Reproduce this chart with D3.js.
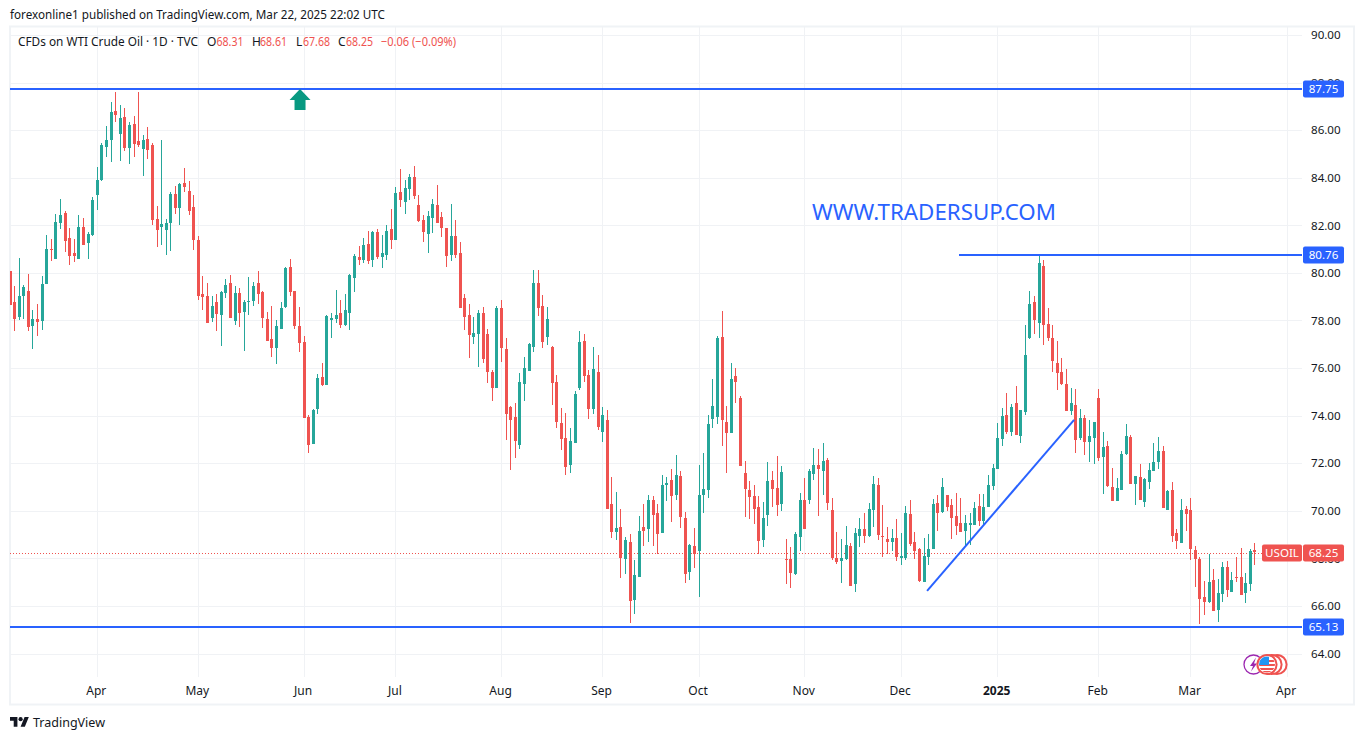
<!DOCTYPE html>
<html><head><meta charset="utf-8">
<script src="https://cdn.jsdelivr.net/npm/d3@7"></script>
<style>html,body{margin:0;padding:0;background:#fff}svg{display:block}text{font-family:"Noto Sans",sans-serif}</style>
</head><body><svg id="c" width="1364" height="740"></svg>
<script>
const opens=[80.06,78.76,78.13,79.01,79.22,77.75,78.04,77.96,79.51,80.98,
80.57,82.08,82.50,81.45,80.81,80.57,81.91,81.23,81.57,83.25,
83.88,85.27,85.56,86.78,85.82,86.53,85.23,86.24,85.52,85.19,
85.61,85.35,82.25,81.91,81.78,82.08,83.30,82.71,83.76,83.42,
82.75,81.36,79.09,79.01,78.09,78.76,78.21,79.14,79.55,77.96,
79.14,78.34,78.76,78.80,79.55,79.18,78.04,77.20,76.82,77.62,
78.54,80.23,79.22,77.75,77.07,73.92,72.79,74.26,75.60,75.27,
78.00,78.04,78.29,77.79,78.29,79.76,80.65,80.52,81.19,80.52,
81.70,80.65,80.73,81.82,81.36,83.38,82.96,83.50,84.01,82.83,
82.20,81.61,82.29,82.83,82.33,81.87,80.73,81.53,80.81,78.92,
78.21,77.28,77.41,78.29,77.41,75.81,75.14,78.50,76.78,74.34,
73.92,72.74,75.31,75.86,76.86,79.55,78.59,77.28,76.86,75.39,
73.67,73.04,71.90,72.83,75.14,77.12,75.69,74.26,75.81,73.29,
73.79,70.26,69.09,69.30,67.95,68.67,66.23,67.20,69.30,69.21,
70.43,69.89,69.05,71.06,71.27,70.64,71.44,69.68,67.41,68.50,
68.29,70.64,70.85,73.84,73.92,77.28,73.71,73.25,75.65,74.72,
71.57,70.85,70.60,70.14,68.75,69.80,71.27,70.94,70.26,67.95,
67.95,67.32,68.88,70.43,70.43,71.53,71.90,71.65,72.11,70.01,
67.99,67.87,67.95,68.50,66.90,68.92,69.21,68.92,70.01,71.06,
68.92,68.79,68.67,68.84,67.99,67.99,69.84,68.67,68.37,66.99,
68.03,68.37,70.30,69.93,70.64,70.22,69.76,69.46,69.13,69.38,
69.38,70.18,69.55,70.14,71.02,71.74,72.99,74.01,73.29,74.51,
73.12,74.13,77.24,78.76,77.87,80.27,77.83,77.24,76.19,75.81,
75.31,74.17,74.42,73.04,73.88,72.87,73.04,74.72,72.24,72.70,
70.98,70.39,70.85,72.37,73.08,71.10,71.40,70.35,71.19,71.65,
72.03,72.49,70.01,70.85,69.04,68.62,70.05,70.01,68.33,67.95,
66.36,66.15,67.07,65.81,66.48,67.62,66.57,67.20,67.20,66.52,
66.90,68.31];
const highs=[80.06,79.43,80.61,79.47,79.93,78.42,78.67,79.85,81.57,81.41,
82.46,83.08,82.58,81.87,81.41,82.41,82.29,81.70,83.17,84.43,
85.44,86.15,87.16,87.58,87.04,86.91,86.32,86.57,87.58,85.77,
86.11,85.44,82.79,85.56,82.25,83.38,83.63,83.76,84.39,83.84,
83.25,81.53,79.85,79.55,79.01,79.09,79.22,79.72,79.89,79.43,
79.34,78.84,79.81,79.60,80.06,79.22,78.34,78.59,78.00,78.76,
80.23,80.56,79.22,78.54,77.33,74.00,74.26,75.73,76.19,78.21,
78.29,79.26,78.84,79.09,79.93,80.77,81.11,81.45,81.74,81.74,
81.82,81.57,81.99,82.66,83.59,84.35,83.88,84.14,84.47,83.25,
82.41,82.58,83.09,83.67,82.54,81.87,82.87,82.20,81.28,79.09,
78.67,78.13,78.42,78.55,77.62,75.90,78.59,78.84,77.24,74.38,
74.51,75.77,76.44,77.03,80.10,80.10,79.05,78.55,76.90,75.69,
74.30,74.09,73.46,75.01,77.54,77.41,75.90,76.86,76.53,74.34,
74.22,71.40,70.77,70.05,68.88,69.00,67.91,69.76,70.26,70.64,
70.60,70.26,71.48,71.40,71.74,72.32,71.65,69.93,68.58,69.26,
71.90,72.41,74.01,75.52,77.33,78.38,74.38,76.19,75.98,74.80,
72.07,71.23,71.06,70.60,70.35,72.03,71.65,72.28,71.86,68.79,
68.46,69.09,70.73,71.36,71.74,72.62,72.58,72.83,72.20,70.52,
69.09,68.79,69.34,68.63,69.26,69.68,69.89,70.31,71.44,71.36,
70.22,69.30,69.21,69.63,69.05,70.18,70.43,69.09,68.41,68.84,
69.00,70.47,70.64,71.36,70.64,70.47,70.73,70.52,69.80,69.88,
70.35,70.68,70.68,71.48,71.94,73.67,74.30,74.93,74.47,75.22,
74.22,77.79,79.22,79.01,80.76,80.52,78.50,77.79,77.12,76.40,
75.94,75.14,75.10,74.26,74.01,73.79,73.71,75.10,73.29,72.91,
71.78,71.36,72.49,73.63,73.16,71.44,71.94,71.36,71.99,72.83,
73.08,72.70,70.85,71.19,69.21,70.47,70.18,70.52,68.50,68.03,
67.03,68.16,67.53,67.11,67.83,67.87,67.41,68.03,68.41,67.36,
68.37,68.61];
const lows=[78.63,77.54,78.00,78.04,77.54,76.78,77.33,77.58,79.51,80.48,
80.57,81.82,80.86,80.31,80.44,80.57,81.15,80.57,81.53,82.62,
83.84,84.85,84.64,86.32,84.68,85.10,84.56,84.85,85.27,84.05,
84.77,81.99,81.07,81.15,80.73,80.90,82.46,81.99,83.38,82.41,
80.94,78.84,78.42,77.88,77.92,77.54,76.91,78.93,78.09,77.79,
77.71,76.69,78.21,78.59,78.67,77.66,77.12,76.44,76.15,77.62,
78.50,79.01,77.62,76.65,73.88,72.41,72.79,74.05,75.23,75.27,
77.24,77.87,77.66,77.75,77.58,79.18,80.31,80.39,80.35,80.23,
80.56,80.19,80.52,80.98,81.36,82.75,82.46,83.04,83.09,82.12,
81.28,80.81,81.65,82.08,81.49,80.23,80.48,80.61,78.50,77.58,
76.40,76.99,76.02,76.19,75.35,74.60,75.14,76.23,72.95,71.69,
72.20,72.57,74.60,75.86,76.65,78.17,76.82,76.95,74.42,73.46,
72.53,71.48,71.57,72.83,75.06,75.39,73.84,74.05,73.37,72.87,
70.05,68.84,68.75,67.15,67.32,65.26,65.64,67.20,68.50,68.67,
68.50,68.16,69.05,70.39,69.51,70.43,69.26,66.94,67.07,67.57,
66.36,69.89,70.52,73.46,73.63,72.70,71.57,73.25,74.51,71.86,
69.72,69.63,69.42,68.16,68.46,69.34,70.14,69.76,69.97,66.90,
66.73,67.28,68.29,69.21,70.26,71.27,69.76,70.64,70.01,67.91,
67.74,66.94,67.91,66.82,66.57,68.46,68.63,68.88,69.30,68.75,
68.04,68.16,68.29,67.87,67.70,67.91,68.50,67.95,66.99,66.99,
67.70,68.37,69.13,69.88,69.97,68.79,68.96,69.09,68.46,68.54,
69.38,69.34,69.38,70.14,70.85,71.74,72.70,73.21,73.12,73.16,
72.83,74.01,77.20,77.41,77.24,76.95,77.12,75.81,75.05,75.27,
74.17,74.00,72.41,72.95,72.32,72.03,71.94,72.07,70.68,70.98,
70.39,70.39,70.85,72.32,71.10,70.22,70.43,70.14,70.89,71.65,
71.74,70.09,70.01,68.67,68.37,68.62,69.13,67.91,66.77,65.22,
65.60,66.10,65.77,65.30,66.15,66.36,66.57,66.98,66.44,66.10,
66.61,67.68];
const closes=[78.63,78.04,79.01,79.39,77.71,78.04,77.92,79.51,80.98,80.94,
82.12,82.41,81.32,80.69,80.69,81.91,81.15,81.61,83.04,83.88,
85.35,85.56,86.74,86.62,86.49,85.23,86.20,85.40,85.35,85.56,
85.14,82.20,81.78,82.03,82.08,83.30,82.71,83.72,83.59,82.58,
81.36,79.01,78.97,77.88,78.59,78.25,79.18,79.47,78.09,79.14,
78.29,78.76,78.80,79.43,79.09,78.09,77.12,76.82,77.75,78.50,
80.19,79.18,77.75,77.03,73.88,72.75,74.22,75.56,75.27,78.17,
78.09,78.21,77.79,78.42,79.89,80.69,80.52,81.15,80.48,81.70,
80.65,80.81,81.74,81.36,83.34,83.04,83.55,84.01,83.21,82.16,
81.70,82.37,82.87,82.08,81.87,80.69,81.53,80.73,78.50,78.13,
77.37,77.45,78.29,76.36,75.81,75.14,78.50,76.82,74.05,73.79,
72.91,75.39,75.98,76.99,79.55,78.50,77.07,78.04,75.35,73.71,
73.00,71.82,72.91,74.89,77.07,75.64,74.26,75.94,73.50,74.00,
70.05,69.09,69.26,68.00,68.75,66.19,67.28,69.13,69.13,70.43,
69.80,69.00,71.06,71.15,70.60,71.48,69.72,67.32,68.54,68.16,
70.64,70.90,73.63,74.38,77.24,73.80,73.25,75.52,75.39,71.86,
70.90,70.56,70.05,68.71,69.68,71.23,70.90,70.22,71.61,67.91,
67.36,69.00,70.43,69.21,71.65,71.90,71.74,72.07,70.31,67.99,
67.83,67.99,68.54,66.82,69.05,69.21,68.92,70.05,71.11,68.96,
68.88,68.67,68.84,68.04,68.08,69.89,68.58,68.29,67.03,68.08,
68.37,70.26,69.88,70.98,70.14,69.67,69.34,69.09,69.46,69.46,
70.09,69.55,70.14,71.06,71.78,73.04,73.96,73.29,74.34,73.16,
74.22,76.53,78.67,78.00,80.39,77.79,77.24,76.27,75.77,75.31,
74.17,74.51,72.95,73.88,72.87,73.12,73.71,72.20,72.66,71.02,
70.39,70.94,72.37,73.12,71.10,71.44,70.43,71.32,71.69,72.03,
72.49,70.09,70.81,68.92,68.71,70.01,69.84,68.37,67.95,66.27,
66.15,66.99,65.77,66.52,67.62,66.65,67.07,67.15,66.44,66.94,
68.29,68.25];

const priceTicks=[64,66,68,70,72,74,76,78,80,82,84,86,88,90];
const timeTickBars=[19,41,64,84,107,129,150,173,194,215,237,257,278];
const timeTickLabels=["Apr","May","Jun","Jul","Aug","Sep","Oct","Nov","Dec","2025","Feb","Mar","Apr"];
const levelPrices=[87.75,80.76,65.13];
const levelStartBars=[null,206.7,null];
const trendBars=[199.7,231.7];
const trendPrices=[66.61,73.80];
const arrowBar=63.2, arrowPrice=87.75;
const lastPrice=68.25;
const titleText="forexonline1 published on TradingView.com, Mar 22, 2025 22:02 UTC";
const legendText="CFDs on WTI Crude Oil · 1D · TVC";
const legendLabels=["O","H","L","C"];
const legendValues=["68.31","68.61","67.68","68.25"];
const legendChange="−0.06 (−0.09%)";
const watermark="WWW.TRADERSUP.COM";

const GREEN="#26a69a",RED="#ef5350",BLUE="#2962ff",TEXT="#131722",GRID="#f0f2f5";
const L=10,R=1302,T=26,B=677;
const x=d3.scaleLinear().domain([0,278]).range([9.7,1286.8]);
const y=d3.scaleLinear().domain([90,64]).range([34.5,653]);
const svg=d3.select("#c");
svg.append("defs").append("clipPath").attr("id","pane").append("rect").attr("x",L).attr("y",T).attr("width",R-L).attr("height",B-T);

// frame
svg.append("rect").attr("x",10).attr("y",26.5).attr("width",1344).attr("height",678).attr("fill","none").attr("stroke","#f0f3f6").attr("stroke-width",2);

// grid
const crisp=g=>g.attr("shape-rendering","crispEdges");
svg.append("g").call(crisp).selectAll("rect.h").data(priceTicks).join("rect")
 .attr("x",L).attr("width",R-L).attr("y",d=>Math.floor(y(d)+1)).attr("height",1).attr("fill",GRID);
svg.append("g").call(crisp).selectAll("rect.v").data(timeTickBars).join("rect")
 .attr("y",T).attr("height",B-T).attr("x",d=>Math.floor(x(d)+.3)).attr("width",1).attr("fill",GRID);

// last price dotted
svg.append("line").attr("x1",L).attr("x2",1262).attr("y1",Math.round(y(lastPrice))+1.5).attr("y2",Math.round(y(lastPrice))+1.5)
 .attr("stroke",RED).attr("stroke-width",1).attr("stroke-dasharray","1 2").attr("shape-rendering","crispEdges");

// candles
const candles=svg.append("g").attr("clip-path","url(#pane)").call(crisp);
const idx=d3.range(opens.length);
const col=i=>closes[i]<opens[i]?RED:GREEN;
const px=i=>Math.floor(x(i)+.3);
candles.selectAll("rect.w").data(idx).join("rect").attr("class","w")
 .attr("x",px).attr("width",1).attr("y",i=>Math.round(y(highs[i])))
 .attr("height",i=>Math.max(1,Math.round(y(lows[i]))-Math.round(y(highs[i])))).attr("fill",col);
candles.selectAll("rect.b").data(idx).join("rect").attr("class","b")
 .attr("x",i=>px(i)-1).attr("width",3).attr("y",i=>Math.round(y(Math.max(opens[i],closes[i]))))
 .attr("height",i=>Math.max(1,Math.round(y(Math.min(opens[i],closes[i])))-Math.round(y(Math.max(opens[i],closes[i]))))).attr("fill",col);

// horizontal levels and trend line
const ly=p=>Math.round(y(p))+1;
svg.append("g").attr("clip-path","url(#pane)").selectAll("line").data(levelPrices).join("line")
 .attr("x1",(d,i)=>levelStartBars[i]===null?L:x(levelStartBars[i])).attr("x2",R)
 .attr("y1",ly).attr("y2",ly).attr("stroke",BLUE).attr("stroke-width",2).attr("shape-rendering","crispEdges");
svg.append("line").attr("x1",x(trendBars[0])).attr("x2",x(trendBars[1])).attr("y1",y(trendPrices[0])).attr("y2",y(trendPrices[1]))
 .attr("stroke",BLUE).attr("stroke-width",2);

// arrow annotation
const ax=x(arrowBar), ay=ly(arrowPrice);
svg.append("path").attr("fill","#089981")
 .attr("d",d3.line()([[ax,ay],[ax+10.5,ay+11],[ax+5.5,ay+11],[ax+5.5,ay+21],[ax-5.5,ay+21],[ax-5.5,ay+11],[ax-10.5,ay+11]])+"Z");

// watermark text
svg.append("text").attr("x",812).attr("y",220).attr("font-size",22).attr("fill",BLUE)
 .attr("textLength",244).attr("lengthAdjust","spacingAndGlyphs").text(watermark);

// axes
const yAxis=d3.axisRight(y).tickValues(priceTicks).tickFormat(d3.format(".2f")).tickSize(0).tickPadding(9);
const yg=svg.append("g").attr("transform",`translate(${R},0.5)`).call(yAxis);
yg.select(".domain").remove();
yg.selectAll("text").attr("font-size",11.6).attr("fill",TEXT).style("font-family",'"Noto Sans",sans-serif');
const xAxis=d3.axisBottom(x).tickValues(timeTickBars).tickFormat((d,i)=>timeTickLabels[i]).tickSize(0).tickPadding(9);
const xg=svg.append("g").attr("transform",`translate(-1.2,${B})`).call(xAxis);
xg.select(".domain").remove();
xg.selectAll("text").attr("font-size",12).attr("fill",TEXT).style("font-family",'"Noto Sans",sans-serif')
 .attr("font-weight",(d,i)=>timeTickLabels[i]==="2025"?700:400);

// price labels
const lab=svg.append("g");
function tag(x0,w,cy,fill,txt){
 lab.append("rect").attr("x",x0).attr("y",cy-8.5).attr("width",w).attr("height",17).attr("rx",2).attr("fill",fill);
 lab.append("text").attr("x",x0+w/2).attr("y",cy+4.3).attr("text-anchor","middle").attr("font-size",11.6).attr("fill","#fff").text(txt);
}
const lastY=Math.round(y(lastPrice))+1;
levelPrices.forEach(p=>tag(1303,41,ly(p),BLUE,p.toFixed(2)));
tag(1262,40,lastY,RED,"USOIL");
tag(1303,41,lastY,RED,lastPrice.toFixed(2));

// header
svg.append("text").attr("x",10).attr("y",19).attr("font-size",12).attr("fill",TEXT)
 .attr("textLength",375).attr("lengthAdjust","spacingAndGlyphs").text(titleText);
svg.append("text").attr("x",18).attr("y",46).attr("font-size",12).attr("fill",TEXT)
 .attr("textLength",180).attr("lengthAdjust","spacingAndGlyphs").text(legendText);
const lx=[207,252,296,338], vx=[216.5,260,303,346];
legendLabels.forEach((l,i)=>{
 svg.append("text").attr("x",lx[i]).attr("y",46).attr("font-size",12).attr("fill",TEXT).text(l);
 svg.append("text").attr("x",vx[i]).attr("y",46).attr("font-size",12).attr("fill",RED).attr("textLength",27).attr("lengthAdjust","spacingAndGlyphs").text(legendValues[i]);
});
svg.append("text").attr("x",381).attr("y",46).attr("font-size",12).attr("fill",RED).attr("textLength",75).attr("lengthAdjust","spacingAndGlyphs").text(legendChange);

// event icons
const ic=svg.append("g");
const cy=664.5;
ic.append("circle").attr("cx",1253.5).attr("cy",cy).attr("r",9.5).attr("fill","#fff").attr("stroke","#9c27b0").attr("stroke-width",1.3);
ic.append("path").attr("fill","#9c27b0").attr("d",d3.line()([[1256,657.5],[1250,666],[1253,666],[1251,671.5],[1257,663.5],[1254,663.5]])+"Z");
[1277,1272,1267].forEach(cx=>ic.append("circle").attr("cx",cx).attr("cy",cy).attr("r",9.6).attr("fill","#fff").attr("stroke",RED).attr("stroke-width",2));
const flag=ic.append("g");
svg.select("defs").append("clipPath").attr("id","fl").append("circle").attr("cx",1267).attr("cy",cy).attr("r",8);
flag.attr("clip-path","url(#fl)").attr("shape-rendering","crispEdges");
flag.append("rect").attr("x",1259).attr("y",656).attr("width",16).attr("height",17).attr("fill","#fff");
[660,664,668,671].forEach(v=>flag.append("rect").attr("x",1259).attr("y",v).attr("width",16).attr("height",2).attr("fill",RED));
flag.append("rect").attr("x",1259).attr("y",656).attr("width",10).attr("height",9).attr("fill","#2196f3");

// logo
const lg=svg.append("g").attr("transform","translate(10,715) scale(.53)").attr("fill",TEXT);
lg.append("path").attr("d","M14 22H7V11H0V4h14v18zM28 22h-8l7.5-18h8L28 22z");
lg.append("circle").attr("cx",20).attr("cy",8).attr("r",4);
svg.append("text").attr("x",33).attr("y",727).attr("font-size",13).attr("fill",TEXT).attr("textLength",72).attr("lengthAdjust","spacingAndGlyphs").text("TradingView");
</script></body></html>
